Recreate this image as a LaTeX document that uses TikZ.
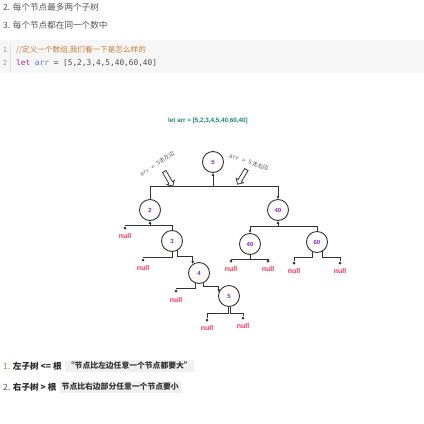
\documentclass[tikz,border=0pt]{standalone}
\usepackage{fontspec}
\setmainfont{Noto Sans CJK SC}
\setsansfont{Liberation Sans}
\setmonofont{DejaVu Sans Mono}
\usetikzlibrary{arrows.meta,shapes.arrows,positioning}

\definecolor{txtgray}{HTML}{555555}
\definecolor{codebg}{HTML}{F6F6F6}
\definecolor{cmtcol}{HTML}{C57F3A}
\definecolor{kwcol}{HTML}{A626A4}
\definecolor{varcol}{HTML}{4078F2}
\definecolor{titlecol}{HTML}{1F7F80}
\definecolor{numcol}{HTML}{8B1FE0}
\definecolor{nullcol}{HTML}{FF3355}
\definecolor{linecol}{HTML}{333333}
\definecolor{markcol}{HTML}{D0802F}

\tikzset{
  tnode/.style={circle, draw=linecol, line width=0.9pt, minimum size=21pt, inner sep=0pt, text=numcol, font=\sffamily\bfseries\fontsize{6}{7}\selectfont},
  link/.style={draw=linecol, line width=0.9pt},
  tip/.style={-{Latex[length=2.8pt,width=2.8pt]}},
  nulldot/.style={circle, fill=linecol, inner sep=0pt, minimum size=3pt},
  nulltxt/.style={text=nullcol, font=\sffamily\bfseries\fontsize{7}{8}\selectfont, inner sep=0.5pt},
  hint/.style={text=txtgray, font=\fontsize{5.5}{6}\selectfont, inner sep=0pt},
  hollow/.style={single arrow, draw=linecol, line width=0.8pt, fill=white, inner sep=1.6pt, minimum height=17pt, single arrow head extend=2.2pt},
  mdtxt/.style={anchor=west, inner sep=0pt, font=\fontsize{8.6}{10}\selectfont},
  inlinecode/.style={anchor=west, fill=black!6, inner sep=1.8pt, text=black!80, font=\bfseries\fontsize{7.8}{9}\selectfont},
}

\begin{document}
\begin{tikzpicture}[x=1pt, y=-1pt]
\useasboundingbox (0,0) rectangle (424,424);

% list text above
\node[mdtxt, text=txtgray] (li2) at (3,7) {2. 每个节点最多两个子树};
\node[mdtxt, text=txtgray] (li3) at (3,25) {3. 每个节点都在同一个数中};

% code block
\fill[codebg] (0,40) rectangle (424,73);
\draw[black!12] (10,42) -- (10,72);
\node[text=black!40, inner sep=0pt, font=\ttfamily\fontsize{7}{8}\selectfont] (ln1) at (5,50) {1};
\node[text=black!40, inner sep=0pt, font=\ttfamily\fontsize{7}{8}\selectfont] (ln2) at (5,63) {2};
\node[anchor=west, inner sep=0pt, text=cmtcol, font=\fontsize{7.6}{9}\selectfont] (cmt) at (16,50) {//定义一个数组,我们看一下是怎么样的};
\node[anchor=west, inner sep=0pt, text=black!70, font=\ttfamily\fontsize{7.8}{9}\selectfont] (code) at (16,63) {\textcolor{kwcol}{let} \textcolor{varcol}{arr} = [5,2,3,4,5,40,60,40]};

% title
\node[text=titlecol, font=\sffamily\bfseries\fontsize{6.3}{7}\selectfont] (title) at (208,121) {let arr = [5,2,3,4,5,40,60,40]};

% tree nodes
\node[tnode] (root) at (213,162) {5};
\node[tnode] (n2) at (150,210) {2};
\node[tnode] (n40) at (278,210) {40};
\node[tnode] (n3) at (172,241) {3};
\node[tnode] (n4) at (199,273) {4};
\node[tnode] (n5) at (229,296) {5};
\node[tnode] (n40b) at (250,244) {40};
\node[tnode] (n60) at (317,242) {60};

\coordinate (froot) at (213,186);
\coordinate (f2) at (150,225);
\coordinate (f40) at (278,226);
\coordinate (f40b) at (250,259);

% null ends
\node[nulldot] (z2) at (125,228) {};
\node[nulldot] (z3) at (143,260) {};
\node[nulldot] (z4) at (176,291) {};
\node[nulldot] (z5l) at (207,320) {};
\node[nulldot] (z5r) at (243,318) {};
\node[nulldot] (z40l) at (231,261) {};
\node[nulldot] (z40r) at (268,261) {};
\node[nulldot] (z60l) at (294,263) {};
\node[nulldot] (z60r) at (340,263) {};
\node[nulltxt, below=3pt of z2] {null};
\node[nulltxt, below=3pt of z3] {null};
\node[nulltxt, below=4pt of z4] {null};
\node[nulltxt, below=3pt of z5l] {null};
\node[nulltxt, below=3pt of z5r] {null};
\node[nulltxt, below=3pt of z40l] {null};
\node[nulltxt, below=3pt of z40r] {null};
\node[nulltxt, below=3pt of z60l] {null};
\node[nulltxt, below=3pt of z60r] {null};

% links
\draw[link, tip] (froot) -- (root);
\draw[link] (froot) -| (n2);
\draw[link, tip] (froot) -| (n40);
\draw[link, tip] (f2) -- (n2);
\draw[link] (f2) -| (z2);
\draw[link] (f2) -| (n3);
\draw[link] (n3.south) -- ++(0,5) -| (z3);
\draw[link, tip] (n3.-60) -- ++(0,6) -| (n4.125);
\draw[link] (n4.-110) -- ++(0,5) -| (z4);
\draw[link, tip] (n4.-65) -- ++(0,4) -| (n5.160);
\draw[link] (n5.-95) -- ++(0,7) -| (z5l);
\draw[link] (n5.-85) -- ++(0,7) -| (z5r);
\draw[link, tip] (f40) -- (n40);
\draw[link, tip] (f40) -| (n40b);
\draw[link] (f40) -| (n60);
\draw[link] (n40b) -- (f40b);
\draw[link] (f40b) -| (z40l);
\draw[link] (f40b) -| (z40r);
\draw[link] (n60.-115) -- ++(0,6) -| (z60l);
\draw[link] (n60.-60) -- ++(0,6) -| (z60r);

% hints
\node[hollow, rotate=-60] (goleft) at (168,178) {};
\node[hollow, rotate=-121] (goright) at (242.5,176) {};
\node[hint, rotate=34] (ltlbl) at (157,164) {\texttt{arr < 5}走左边};
\node[hint, rotate=-19] (gtlbl) at (249,162) {\texttt{arr > 5} 走右边};

% rules below
\node[mdtxt, text=black!85] (rule1) at (3,366) {\textcolor{markcol}{1.} \textbf{左子树 <= 根}};
\node[inlinecode, right=3pt of rule1] (rule1code) {“节点比左边任意一个节点都要大”};
\node[mdtxt, text=black!85] (rule2) at (3,387) {\textcolor{txtgray}{2.} \textbf{右子树 > 根}};
\node[inlinecode, right=3pt of rule2] (rule2code) {节点比右边部分任意一个节点要小};
\end{tikzpicture}
\end{document}
